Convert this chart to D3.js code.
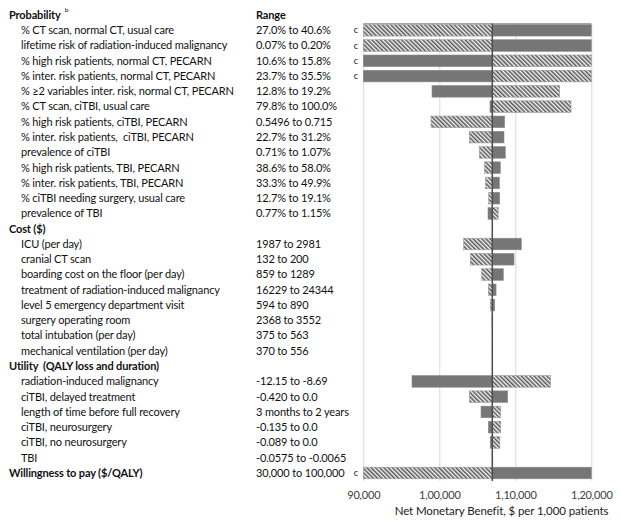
<!DOCTYPE html>
<html><head><meta charset="utf-8">
<script src="https://cdn.jsdelivr.net/npm/d3@7"></script>
<style>
body{margin:0;background:#fff;}
text{font-family:Lato,"Open Sans",sans-serif;white-space:pre;}
</style></head>
<body><svg id="c" width="620" height="527"></svg>
<script>
// rows: type h = group header, i = item
const rowLabels = [
 "Probability","% CT scan, normal CT, usual care","lifetime risk of radiation-induced malignancy",
 "% high risk patients, normal CT, PECARN","% inter. risk patients, normal CT, PECARN",
 "% \u22652 variables inter. risk, normal CT, PECARN","% CT scan, ciTBI, usual care",
 "% high risk patients, ciTBI, PECARN","% inter. risk patients,  ciTBI, PECARN","prevalence of ciTBI",
 "% high risk patients, TBI, PECARN","% inter. risk patients, TBI, PECARN","% ciTBI needing surgery, usual care",
 "prevalence of TBI","Cost ($)","ICU (per day)","cranial CT scan","boarding cost on the floor (per day)",
 "treatment of radiation-induced malignancy","level 5 emergency department visit","surgery operating room",
 "total intubation (per day)","mechanical ventilation (per day)","Utility  (QALY loss and duration)",
 "radiation-induced malignancy","ciTBI, delayed treatment","length of time before full recovery",
 "ciTBI, neurosurgery","ciTBI, no neurosurgery","TBI","Willingness to pay ($/QALY)"
];
const rowTypes = ["h","i","i","i","i","i","i","i","i","i","i","i","i","i","h","i","i","i","i","i","i","i","i","h","i","i","i","i","i","i","h"];
const rangeLabels = [
 "Range","27.0% to 40.6%","0.07% to 0.20%","10.6% to 15.8%","23.7% to 35.5%","12.8% to 19.2%",
 "79.8% to 100.0%","0.5496 to 0.715","22.7% to 31.2%","0.71% to 1.07%","38.6% to 58.0%",
 "33.3% to 49.9%","12.7% to 19.1%","0.77% to 1.15%","","1987 to 2981","132 to 200","859 to 1289",
 "16229 to 24344","594 to 890","2368 to 3552","375 to 563","370 to 556","",
 "-12.15 to -8.69","-0.420 to 0.0","3 months to 2 years","-0.135 to 0.0","-0.089 to 0.0",
 "-0.0575 to -0.0065","30,000 to 100,000"
];
// net monetary benefit at the hatched / solid ends (null for header rows)
const hatchedNMB = [null,82000,85000,125000,125000,115840,117330,98910,103950,105260,105970,106100,106500,107750,null,
 103210,104080,105580,106450,106710,106930,106960,106960,null,114650,103950,108080,108080,107970,106990,80000];
const solidNMB = [null,135000,128000,86000,85000,99040,106670,108600,108510,108680,108030,107900,107950,106410,null,
 110790,109830,108420,107470,107290,107020,106990,106990,null,96410,109000,105490,106450,106710,106960,135000];
const truncated = [0,1,1,1,1,0,0,0,0,0,0,0,0,0,0,0,0,0,0,0,0,0,0,0,0,0,0,0,0,0,1];
const baseNMB = 106974;
const tickValues = [90000,100000,110000,120000];
const tickLabels = ["90,000","1,00,000","1,10,000","1,20,000"];
const axisTitle = "Net Monetary Benefit, $ per 1,000 patients";

const svg = d3.select("#c");
const defs = svg.append("defs");
const pat = defs.append("pattern").attr("id","hatch").attr("patternUnits","userSpaceOnUse")
  .attr("width",3).attr("height",3).attr("patternTransform","rotate(-45)");
pat.append("rect").attr("width",3).attr("height",3).attr("fill","#f4f4f4");
pat.append("rect").attr("width",1.5).attr("height",3).attr("fill","#555");

const x = d3.scaleLinear().domain([90000,120000]).range([363.3,591.3]).clamp(true);
const y = d3.scalePoint().domain(d3.range(rowLabels.length)).range([15,473]);
const plotTop = 23.5, plotBottom = 481;
const barH = 11.6;

// gridlines via axis
const grid = svg.append("g").attr("transform",`translate(0,${plotTop})`)
  .call(d3.axisBottom(x).tickValues(tickValues).tickSize(plotBottom-plotTop).tickFormat(""));
grid.select(".domain").remove();
grid.selectAll("line").attr("stroke","#d9d9d9").attr("stroke-width",1);
svg.append("line").attr("x1",x(90000)).attr("x2",x(120000)).attr("y1",plotTop).attr("y2",plotTop)
  .attr("stroke","#a6a6a6").attr("stroke-width",1);

const rows = d3.range(rowLabels.length).filter(i=>rowTypes[i]==="i" || i===rowLabels.length-1);
const bars = svg.append("g");
rows.forEach(i=>{
  [["h",hatchedNMB[i]],["s",solidNMB[i]]].forEach(([k,v])=>{
    if(v==null) return;
    const x0 = Math.min(x(v),x(baseNMB)), x1 = Math.max(x(v),x(baseNMB));
    bars.append("rect").attr("x",x0).attr("y",y(i)-barH/2).attr("width",x1-x0).attr("height",barH)
      .attr("fill",k==="h"?"url(#hatch)":"#767676")
      .attr("stroke",k==="h"?"#9a9a9a":"#8a8a8a").attr("stroke-width",0.6);
  });
});
svg.append("line").attr("x1",x(baseNMB)).attr("x2",x(baseNMB)).attr("y1",plotTop).attr("y2",plotBottom)
  .attr("stroke","#4d4d4d").attr("stroke-width",1.5);

// truncation marks
svg.append("g").selectAll("text").data(d3.range(rowLabels.length).filter(i=>truncated[i]))
  .join("text").attr("x",356).attr("y",d=>y(d)).attr("dy","0.35em").attr("text-anchor","middle")
  .attr("font-size",9).attr("fill","#222").text("c");

// axis labels
const ax = svg.append("g").attr("transform",`translate(0,${plotBottom})`)
  .call(d3.axisBottom(x).tickValues(tickValues).tickSize(0).tickPadding(10).tickFormat((d,i)=>tickLabels[i]));
ax.select(".domain").remove();
ax.selectAll("text").attr("font-size",11).attr("letter-spacing",-0.2).attr("fill","#404040")
  .attr("font-family","Lato,'Open Sans',sans-serif");
svg.append("text").attr("x",501.5).attr("y",515).attr("text-anchor","middle").attr("font-size",11.5)
  .attr("letter-spacing",-0.1).attr("fill","#222").text(axisTitle);

// left labels
const lab = svg.append("g");
let probW = 0;
rowLabels.forEach((t,i)=>{
  const hdr = rowTypes[i]==="h";
  const tn = lab.append("text").attr("x",hdr?9:21).attr("y",y(i)).attr("dy","0.35em")
    .attr("font-size",11).attr("letter-spacing",-0.15).attr("font-weight",hdr?"bold":"normal").attr("fill","#111").text(t);
  if(i===0) probW = tn.node().getComputedTextLength();
  if(rangeLabels[i]) lab.append("text").attr("x",256).attr("y",y(i)).attr("dy","0.35em")
    .attr("font-size",11).attr("letter-spacing",-0.15).attr("font-weight",i===0?"bold":"normal").attr("fill","#111").text(rangeLabels[i]);
});
lab.append("text").attr("x",9+probW+4).attr("y",12).attr("font-size",6.5).attr("fill","#111").text("b");
</script></body></html>
